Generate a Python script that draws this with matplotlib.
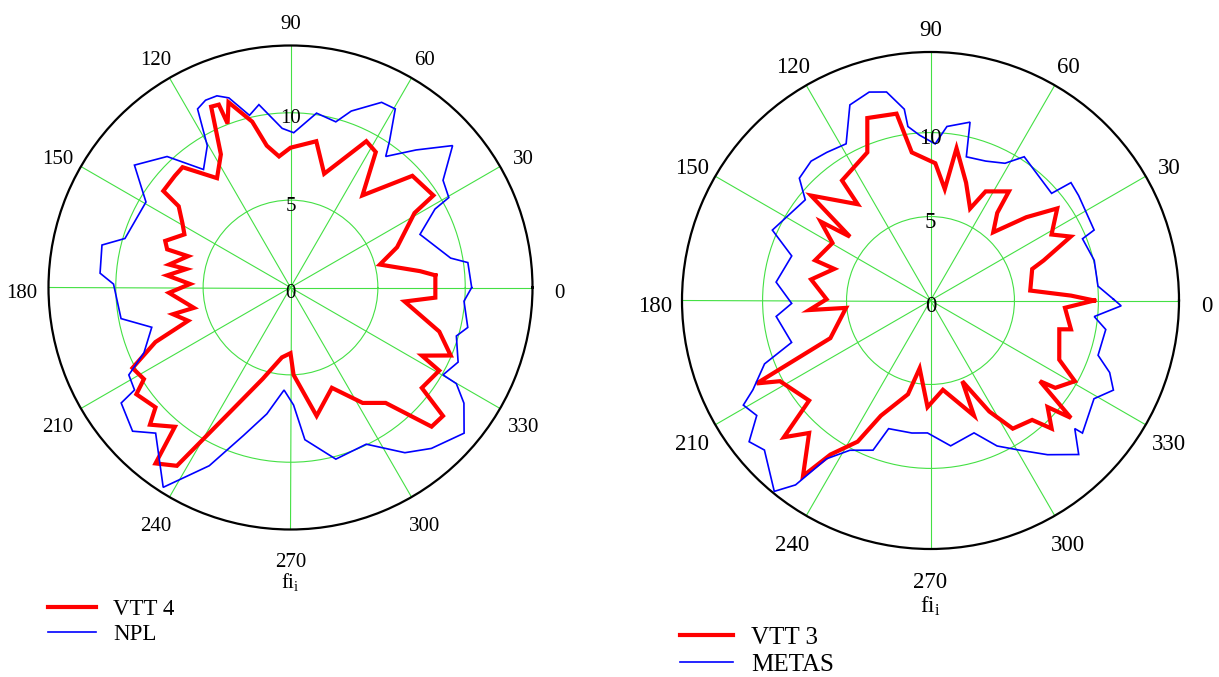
import matplotlib.pyplot as plt
import numpy as np
from matplotlib import transforms

plt.rcParams['font.family'] = ['Liberation Serif', 'DejaVu Serif']
plt.rcParams['mathtext.fontset'] = 'custom'
plt.rcParams['mathtext.rm'] = 'Liberation Serif'

# left panel: VTT 4 vs NPL (angle in degrees, radius)
vtt4_ang = [4.8, 7.2, 14.4, 20.7, 31, 32.8, 42.5, 52, 57.8, 62.6, 73.5, 80, 90, 95, 99.5, 103,
            108.5, 111, 111.4, 113.7, 117.6, 123.9, 131.9, 136, 142.8, 144, 149.4, 153.4, 159.6,
            162.8, 163, 169.3, 170, 174.4, 178, 182.5, 191.9, 192.8, 198, 202, 207, 212, 214.7,
            221.6, 224.3, 230.3, 232.5, 237.5, 243.8, 253, 263, 270, 272, 281.5, 292.4, 302,
            309.5, 315.4, 319.9, 322.6, 330.8, 332.6, 337, 343.5, 353, 356]
vtt4_r = [8.32, 7.47, 5.28, 6.52, 8.28, 9.73, 9.46, 6.69, 9.16, 9.43, 6.79, 8.5, 8.0, 7.53, 8.23,
          9.74, 11.18, 10.05, 11.24, 11.3, 8.6, 7.54, 9.25, 9.2, 9.14, 7.91, 7.18, 6.79, 7.65,
          7.39, 6.13, 7.07, 6.06, 7.1, 5.75, 6.96, 5.65, 6.9, 6.16, 8.34, 10.15, 9.89, 10.73,
          10.33, 11.24, 10.36, 12.69, 12.1, 8.05, 5.48, 4.03, 3.76, 5.0, 7.5, 6.21, 7.79,
          8.56, 11.34, 11.41, 9.46, 9.75, 8.47, 9.96, 8.88, 6.58, 8.31]
npl_ang = [0, 8, 10.4, 22.3, 28.5, 29.6, 35.1, 41.2, 47.6, 54, 55.9, 59.6, 63.8, 71, 74.7, 81.5,
           88.8, 93, 99.8, 103.4, 108, 111, 114.4, 117.5, 120.4, 126.4, 133.3, 141.9, 149.4,
           163.5, 167.3, 175.7, 178.9, 190.4, 196, 204, 208.4, 213.3, 214.3, 222.3, 227.2,
           237.5, 245.5, 252.4, 259.4, 266.4, 271.5, 275.4, 284.8, 295.8, 304.7, 311.2, 320,
           326.3, 329.9, 330.2, 336, 343.7, 347.3, 355.5]
npl_r = [10.37, 10.25, 9.32, 8.01, 9.41, 10.42, 10.67, 12.33, 10.66, 9.27, 10.1, 11.85, 11.81,
         10.68, 9.83, 10.09, 8.86, 9.12, 10.62, 10.13, 11.41, 11.75, 11.77, 11.52, 9.41, 8.39,
         10.3, 11.35, 9.61, 9.88, 11.06, 10.93, 10.13, 9.86, 8.26, 9.18, 10.52, 10.68, 11.73,
         12.22, 11.36, 13.56, 11.21, 8.88, 7.36, 5.88, 6.73, 8.75, 10.16, 9.96, 11.5, 12.24,
         12.97, 11.93, 10.97, 10.06, 10.5, 9.89, 10.4, 9.96]

# right panel: VTT 3 vs METAS
vtt3_ang = [0, 2, 5.7, 17.2, 19.5, 24.5, 28.6, 36, 41, 47.4, 52.7, 54.3, 63.2, 66.7, 73.2, 80.3,
            82.7, 88, 97.2, 100.3, 109.1, 113.1, 126.4, 127.1, 138.7, 141.6, 144.3, 149.6, 160.8,
            161.8, 170, 179.3, 184.5, 185, 200.6, 205.5, 208.2, 219.5, 223, 227.5, 234, 237,
            242.7, 246.7, 256.5, 260.9, 268.4, 277.9, 290.7, 291.5, 297.9, 302.7, 310.4, 313.4,
            317.7, 320.1, 323.6, 325, 330.8, 335.3, 347.4, 348.4, 356.9]
vtt3_r = [9.75, 8.37, 5.97, 6.34, 7.15, 9.18, 8.21, 9.33, 7.56, 5.52, 6.56, 8.0, 7.28, 5.96, 7.33,
          9.2, 6.69, 8.18, 8.89, 11.31, 11.5, 9.59, 8.88, 7.19, 9.47, 6.12, 8.05, 6.77, 7.28,
          6.03, 7.22, 6.19, 7.25, 5.05, 6.37, 11.47, 10.17, 9.37, 11.94, 10.7, 12.92, 10.94,
          9.46, 7.47, 5.74, 4.09, 6.35, 5.37, 7.33, 5.17, 7.48, 9.07, 9.34, 10.5,
          9.43, 10.9, 8.1, 9.07, 9.85, 8.44, 7.86, 8.54, 8.02]
metas_ang = [0.4, 4.9, 13.8, 22.1, 23.3, 35.3, 40, 41.5, 56.9, 61.5, 68.4, 76, 77.5, 84.6, 88.3,
             93.8, 97.4, 97.8, 101.9, 106.4, 112.4, 118.3, 125, 130.6, 137, 141.2, 156, 162.2,
             173.2, 181.2, 185.9, 196.8, 200.9, 206.7, 209.2, 213.5, 217.9, 222, 230.7, 233.8,
             236.7, 241.7, 249, 251.9, 262, 268.7, 277.9, 288.2, 294.6, 301, 307.2, 313.9,
             318.4, 318.9, 329, 333.9, 338.1, 341.9, 350.6, 354.4, 358.4]
metas_r = [10.9, 10.01, 10.04, 9.77, 10.61, 10.81, 10.92, 9.63, 10.22, 9.3, 8.93, 8.82, 10.88,
           10.41, 9.33, 9.87, 10.45, 11.5, 12.69, 12.94, 12.6, 10.6, 10.77, 10.93, 10.68, 9.57,
           10.31, 8.68, 9.26, 8.27, 9.24, 8.64, 10.58, 11.84, 12.77, 12.41, 13.69, 13.31,
           14.69, 13.61, 11.28, 10.13, 9.55, 8.03, 7.97, 7.89, 8.74, 8.3, 9.53, 10.41, 11.53,
           12.73, 11.49, 12.01, 11.36, 12.13, 11.5, 10.5, 10.58, 9.8, 11.36]

angle_ticks = list(range(0, 360, 30))
ring_ticks = [0, 5, 10]

W, H = 1219, 677
fig = plt.figure(figsize=(W / 100, H / 100), dpi=100)


def panel(cx, cy, rad, rmax, fs, series, names, leg_xy, leg_sp, fi_y):
    ax = fig.add_axes([(cx - rad) / W, (H - cy - rad) / H, 2 * rad / W, 2 * rad / H],
                      projection='polar')
    lines = []
    for ang, r, col, lw in series:
        t = np.radians(ang + ang[:1])
        lines += ax.plot(t, r + r[:1], color=col, lw=lw, solid_joinstyle='miter')
    ax.set_ylim(0, rmax)
    ax.set_xticks(np.radians(angle_ticks))
    ax.set_xticklabels([])
    ax.set_yticks(ring_ticks[1:])
    ax.set_yticklabels([])
    ax.grid(True, color='#44e044', lw=0.8)
    ax.spines['polar'].set_color('black')
    ax.spines['polar'].set_linewidth(1.6)
    off = transforms.offset_copy(ax.transData, fig=fig, x=0, y=-6, units='dots')
    for a in angle_ticks:
        ax.text(np.radians(a), rmax * 1.11, str(a), transform=off, ha='center', va='center',
                fontsize=fs)
    for r in ring_ticks:
        ax.text(np.pi / 2, r, str(r), transform=off, ha='center', va='center', fontsize=fs)
    fig.text(cx / W, 1 - fi_y / H, r'fi$_\mathregular{i}$', ha='center', va='center', fontsize=fs)
    fig.legend(lines, names, loc='upper left', bbox_to_anchor=leg_xy, frameon=False,
               fontsize=fs + 1.5, borderpad=0, borderaxespad=0, handlelength=2.1,
               handletextpad=0.75, labelspacing=leg_sp)
    return ax


panel(290.5, 287.5, 242, 13.85, 15,
      [(vtt4_ang, vtt4_r, '#ff0000', 3.0), (npl_ang, npl_r, '#0000ff', 1.2)],
      ['VTT 4', 'NPL'], (48 / W, 1 - 599 / H), 0.16, 583)
panel(930.5, 300.5, 248.5, 14.8, 16.5,
      [(vtt3_ang, vtt3_r, '#ff0000', 3.0), (metas_ang, metas_r, '#0000ff', 1.2)],
      ['VTT 3', 'METAS'], (680 / W, 1 - 626 / H), 0.2, 606)

fig.savefig('out.png', dpi=100)
